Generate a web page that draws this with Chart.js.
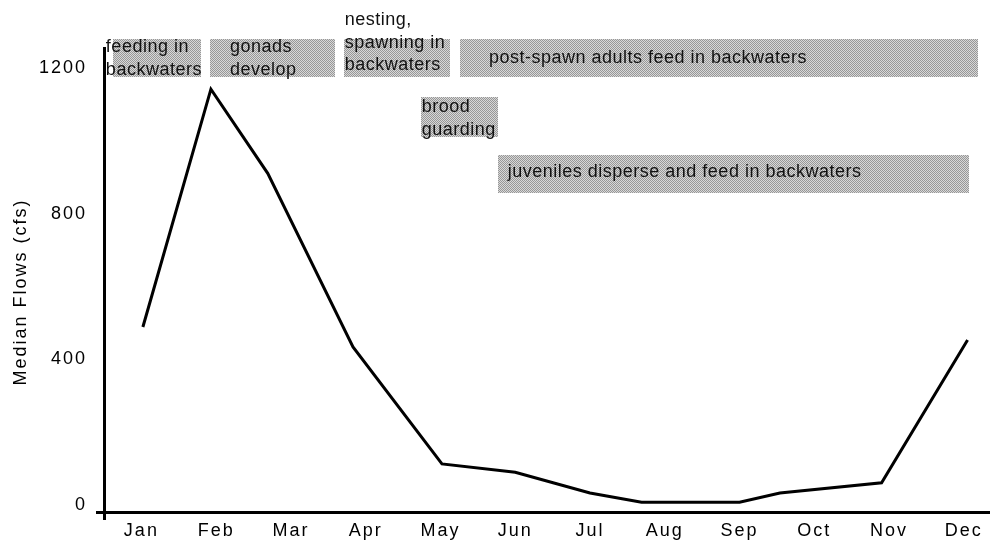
<!DOCTYPE html>
<html><head><meta charset="utf-8">
<script src="https://cdn.jsdelivr.net/npm/chart.js@4"></script>
<style>html,body{margin:0;padding:0;background:#fff;overflow:hidden}#wrap{width:990px;height:544px;position:relative}</style>
</head><body><div id="wrap"><canvas id="c"></canvas></div>
<script>
// ---- data ----
const months = ['Jan','Feb','Mar','Apr','May','Jun','Jul','Aug','Sep','Oct','Nov','Dec'];
const monthPos = [0.02, 0.93, 1.69, 2.83, 4.02, 5.0, 6.0, 6.69, 8.0, 8.54, 9.9, 11.05];
const flows = [508, 1161, 930, 453, 132, 109, 52, 27, 27, 52, 80, 472];
const yTicks = [0, 400, 800, 1200];
const yTitle = 'Median Flows (cfs)';

// life stages (month spans)
const stageLabels = [
  ['feeding in', 'backwaters'],
  ['gonads', 'develop'],
  ['nesting,', 'spawning in', 'backwaters'],
  ['post-spawn adults feed in backwaters'],
  ['brood', 'guarding'],
  ['juveniles disperse and feed in backwaters']
];
const stageStart = [-0.38, 0.916, 2.708, 4.26, 3.74, 4.77];
const stageEnd   = [0.796, 2.588, 4.126, 11.19, 4.77, 11.07];

// ---- layout of the stage boxes (axis units) ----
const stageLayout = [
  {top: 1298, bottom: 1194, textX: -0.475, base: 1262.7},
  {top: 1298, bottom: 1194, textX: 1.184,  base: 1262.7},
  {top: 1298, bottom: 1194, textX: 2.72,   base: 1336.8},
  {top: 1298, bottom: 1194, textX: 4.648,  base: 1232.5},
  {top: 1139, bottom: 1029, textX: 3.75,   base: 1098},
  {top: 980,  bottom: 876,  textX: 4.90,   base: 919.6}
];
const LINE_GAP = 22.5;
const FONT = "'Liberation Sans', Arial, sans-serif";

function makePattern(ctx) {
  const c = document.createElement('canvas');
  c.width = 2; c.height = 2;
  const p = c.getContext('2d');
  p.fillStyle = '#d8d8d8'; p.fillRect(0, 0, 2, 2);
  p.fillStyle = '#979797'; p.fillRect(0, 0, 1, 1); p.fillRect(1, 1, 1, 1);
  return ctx.createPattern(c, 'repeat');
}

const stagePlugin = {
  id: 'stages',
  beforeDraw(chart) { chart.ctx.letterSpacing = '2px'; },
  beforeDatasetsDraw(chart) {
    const {ctx, chartArea, scales: {x, y}} = chart;
    ctx.save();
    ctx.fillStyle = makePattern(ctx);
    stageLabels.forEach((lines, i) => {
      const L = stageLayout[i];
      const x0 = Math.round(x.getPixelForValue(stageStart[i]));
      const x1 = Math.round(x.getPixelForValue(stageEnd[i]));
      const y0 = Math.round(y.getPixelForValue(L.top));
      const y1 = Math.round(y.getPixelForValue(L.bottom));
      ctx.fillRect(x0, y0, x1 - x0, y1 - y0);
    });
    // y axis title
    ctx.letterSpacing = '2px';
    ctx.font = '18px ' + FONT;
    ctx.fillStyle = '#000';
    ctx.textAlign = 'center';
    ctx.textBaseline = 'middle';
    ctx.translate(21, (chartArea.top + chartArea.bottom) / 2 + 12);
    ctx.rotate(-Math.PI / 2);
    ctx.fillText(yTitle, 0, 0);
    ctx.restore();
  },
  afterDatasetsDraw(chart) {
    const {ctx, scales: {x, y}} = chart;
    ctx.save();
    ctx.letterSpacing = '0.5px';
    ctx.font = '18px ' + FONT;
    ctx.fillStyle = '#111';
    ctx.textAlign = 'left';
    ctx.textBaseline = 'alphabetic';
    stageLabels.forEach((lines, i) => {
      const L = stageLayout[i];
      const tx = x.getPixelForValue(L.textX);
      const ty = y.getPixelForValue(L.base);
      lines.forEach((t, j) => ctx.fillText(t, tx, ty + j * LINE_GAP));
    });
    ctx.restore();
  }
};

new Chart(document.getElementById('c'), {
  type: 'line',
  data: {
    datasets: [{
      data: monthPos.map((m, i) => ({x: m, y: flows[i]})),
      borderColor: '#000',
      borderWidth: 3,
      pointRadius: 0,
      tension: 0,
      fill: false
    }]
  },
  options: {
    responsive: true,
    maintainAspectRatio: false,
    animation: false,
    layout: {padding: {top: 48, right: 0, bottom: 0, left: 0}},
    plugins: {legend: {display: false}, tooltip: {enabled: false}},
    scales: {
      x: {
        type: 'linear',
        min: -0.5,
        max: 11.35,
        afterBuildTicks: s => { s.ticks = [{value: -0.5}].concat(months.map((m, i) => ({value: i}))); },
        afterFit: s => { s.height = 32; },
        ticks: {
          autoSkip: false, maxRotation: 0, padding: 0,
          color: '#000', font: {family: FONT, size: 18},
          callback: v => months[v] !== undefined ? months[v] : ''
        },
        grid: {
          drawOnChartArea: false, drawTicks: true, tickLength: 8, lineWidth: 3,
          color: c => (c.tick && c.tick.value === -0.5) ? '#000' : 'rgba(0,0,0,0)'
        },
        border: {display: true, color: '#000', width: 3}
      },
      y: {
        type: 'linear',
        min: 0,
        max: 1274,
        afterBuildTicks: s => { s.ticks = yTicks.map(v => ({value: v})); },
        afterFit: s => { s.width = 104; },
        ticks: {
          padding: 9, labelOffset: -7,
          color: '#000', font: {family: FONT, size: 18},
          callback: v => String(v)
        },
        grid: {
          drawOnChartArea: false, drawTicks: true, tickLength: 8, lineWidth: 3,
          color: c => (c.tick && c.tick.value === 0) ? '#000' : 'rgba(0,0,0,0)'
        },
        border: {display: true, color: '#000', width: 3}
      }
    }
  },
  plugins: [stagePlugin]
});
</script>
</body></html>
